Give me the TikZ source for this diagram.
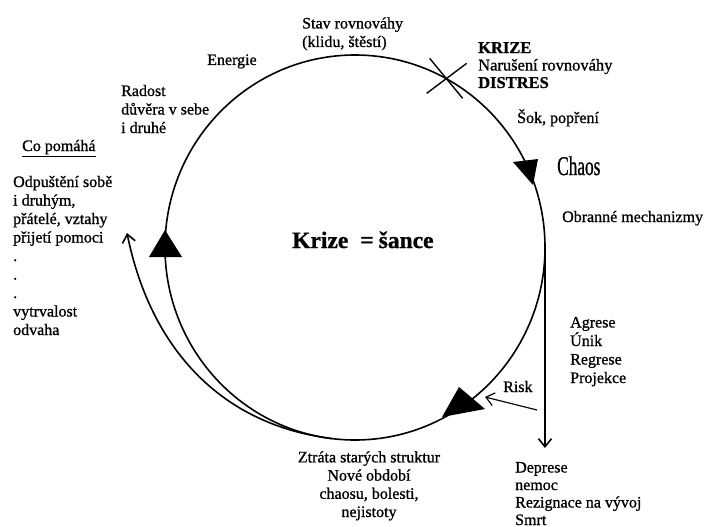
\documentclass[tikz,border=0pt]{standalone}
\usepackage{fontspec}
\setmainfont{Liberation Serif}[RawFeature={embolden=0.9}]
\usetikzlibrary{arrows.meta,calc}
\begin{document}
\begin{tikzpicture}[x=1pt,y=-1pt,
  txt/.style={font=\fontsize{16}{18.5}\selectfont, inner sep=0pt, align=left, anchor=base west},
  txtc/.style={font=\fontsize{16}{18.2}\selectfont, inner sep=0pt, align=center, anchor=base},
  flow/.style={line width=1.6pt},
  barb/.style={-{Straight Barb[length=8pt,width=13pt]}},
  tri/.style={fill=black}]
\useasboundingbox (0,0) rectangle (709,527);
\coordinate (C) at (355,247.5);
% main circle
\draw[flow] (C) ellipse [x radius=190pt, y radius=192.5pt];
% crisis mark
\coordinate (X) at ($(C)+(-61.5:190 and 192.5)$);
\draw[line width=1.4pt] ($(X)+(-19,15)$) -- ($(X)+(21,-15)$);
\draw[line width=1.4pt] ($(X)+(-16,-20)$) -- ($(X)+(17,20)$);
% direction triangles
\fill[tri] (513,162) -- (538,159) -- (533,185) -- cycle;
\fill[tri] (459,387) -- (485,409) -- (442,417) -- cycle;
\fill[tri] (165,230) -- (149,257) -- (182,257) -- cycle;
% vertical arrow
\coordinate (R) at ($(C)+(0:190 and 192.5)$);
\coordinate (Rend) at (545,448);
\draw[flow,barb] (R) -- (Rend);
% risk arrow
\coordinate (risktail) at (537,410);
\coordinate (risktip) at (485,397);
\draw[line width=1.2pt,barb] (risktail) -- (risktip);
% outer return arrow
\coordinate (o1) at ($(C)+(97:190 and 192.5)$);
\coordinate (otip) at (127,233);
\draw[flow,barb] (o1) .. controls (222.7,425) and (151,350.6) .. (otip);
% texts (anchor = baseline of the last line)
\node[txt] (stav) at (302,47) {Stav rovnováhy\\(klidu, štěstí)};
\node[txt] (energie) at (207,65) {Energie};
\node[txt] (radost) at (121,133) {Radost\\důvěra v sebe\\i druhé};
\node[txt] (copom) at (22,151) {\underline{Co pomáhá}};
\node[txt] (pomaha) at (13,335) {Odpuštění sobě\\i druhým,\\přátelé, vztahy\\přijetí pomoci\\.\\.\\.\\vytrvalost\\odvaha};
\node[txt, font=\fontsize{16.5}{17.5}\selectfont] (krize) at (478,88) {\textbf{KRIZE}\\Narušení rovnováhy\\\textbf{DISTRES}};
\node[txt] (sok) at (517,123) {Šok, popření};
\node[txt] (chaos) at (557,175) {\scalebox{0.64}[1]{\fontsize{27}{27}\selectfont Chaos}};
\node[txt] (obranne) at (562,222) {Obranné mechanizmy};
\node[txt] (agrese) at (570,383) {Agrese\\Únik\\Regrese\\Projekce};
\node[txt] (risk) at (503,392) {Risk};
\node[txtc] (ztrata) at (369,517) {Ztráta starých struktur\\Nové období\\chaosu, bolesti,\\nejistoty};
\node[txt, font=\fontsize{16}{17.5}\selectfont] (deprese) at (515,525) {Deprese\\nemoc\\Rezignace na vývoj\\Smrt};
\node[txt, font=\bfseries\fontsize{23.5}{23.5}\selectfont] (sance) at (292,248) {Krize\hspace{12pt}=\hspace{5pt}šance};
\end{tikzpicture}
\end{document}
